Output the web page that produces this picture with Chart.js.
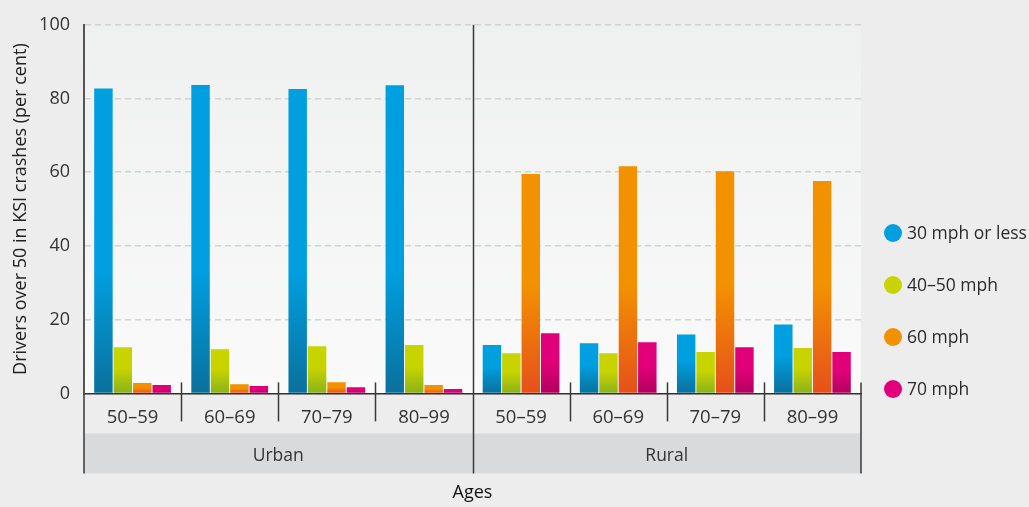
<!DOCTYPE html>
<html>
<head>
<meta charset="utf-8">
<script src="https://cdn.jsdelivr.net/npm/chart.js@4.4.1/dist/chart.umd.min.js"></script>
<style>
    body { margin: 0; background: #ecedec; font-family: 'Open Sans', sans-serif; }
    #wrap { position: relative; width: 1029px; height: 507px; }
    #chart { position: absolute; left: 0; top: 0; }
    #legend { position: absolute; left: 884px; top: 222px; }
    .item { position: relative; height: 52px; font-size: 17.5px; color: #2b2b2b; }
    .dot { position: absolute; left: 0; top: 2px; width: 18px; height: 18px; border-radius: 50%; }
    .lbl { position: absolute; left: 23px; top: -1px; line-height: 22px; white-space: nowrap; }
</style>
</head>
<body>
<div id="wrap">
    <canvas id="chart" width="1029" height="507"></canvas>
    <div id="legend"></div>
</div>
<script>
// Données
const ageGroups = ['50–59', '60–69', '70–79', '80–99', '50–59', '60–69', '70–79', '80–99'];
const areas = ['Urban', 'Rural'];
const speed30 = [82.7, 83.7, 82.6, 83.6, 13.1, 13.6, 16.0, 18.7];
const speed4050 = [12.5, 12.0, 12.8, 13.1, 10.9, 10.9, 11.2, 12.3];
const speed60 = [2.8, 2.5, 3.0, 2.3, 59.5, 61.6, 60.3, 57.6];
const speed70 = [2.3, 2.0, 1.7, 1.2, 16.3, 13.9, 12.5, 11.2];
const seriesNames = ['30 mph or less', '40–50 mph', '60 mph', '70 mph'];
const yMin = 0, yMax = 100, yStep = 20;

const topColors = ['#009fe0', '#c8d400', '#f39200', '#e2007a'];
const bottomColors = ['#0b709c', '#8ab21b', '#e6501c', '#b3005f'];
const FONT = "'Open Sans', sans-serif";

// Dégradé vertical sur le bas de chaque barre
function barGradient(i) {
    return (context) => {
        const chart = context.chart;
        if (!chart.chartArea || !context.parsed) return topColors[i];
        const y = chart.scales.y;
        const top = y.getPixelForValue(context.parsed.y);
        const bottom = y.getPixelForValue(0);
        if (bottom - top < 1) return bottomColors[i];
        const start = Math.max(top, bottom - 110);
        const g = chart.ctx.createLinearGradient(0, top, 0, bottom);
        const s = (start - top) / (bottom - top);
        g.addColorStop(0, topColors[i]);
        g.addColorStop(Math.min(0.6, Math.max(s, 0.45)), topColors[i]);
        g.addColorStop(1, bottomColors[i]);
        return g;
    };
}

// Fond du graphique, bande grise et séparateurs
const decorPlugin = {
    id: 'decor',
    beforeDraw(chart) {
        const { ctx, chartArea } = chart;
        const x2 = chart.scales.x2;
        ctx.save();
        const g = ctx.createLinearGradient(0, chartArea.top, 0, chartArea.bottom);
        g.addColorStop(0, '#eff0f0');
        g.addColorStop(1, '#fafafa');
        ctx.fillStyle = g;
        ctx.fillRect(chartArea.left, chartArea.top, chartArea.right - chartArea.left, chartArea.bottom - chartArea.top);
        ctx.fillStyle = '#d9dadc';
        ctx.fillRect(chartArea.left, x2.top, chartArea.right - chartArea.left, x2.bottom - x2.top);
        ctx.restore();
    },
    afterDraw(chart) {
        const { ctx, chartArea } = chart;
        const x = chart.scales.x;
        const x2 = chart.scales.x2;
        ctx.save();
        ctx.strokeStyle = '#3a3a3a';
        ctx.lineWidth = 1.5;
        for (let i = 0; i < ageGroups.length - 1; i++) {
            const px = Math.round((x.getPixelForValue(i) + x.getPixelForValue(i + 1)) / 2) + 0.5;
            ctx.beginPath();
            if (i === 3) {
                ctx.moveTo(px, chartArea.top);
                ctx.lineTo(px, x2.bottom);
            } else {
                ctx.moveTo(px, chartArea.bottom - 11);
                ctx.lineTo(px, x.bottom - 12);
            }
            ctx.stroke();
        }
        ctx.beginPath();
        ctx.moveTo(chartArea.left, chartArea.bottom);
        ctx.lineTo(chartArea.left, x2.bottom);
        ctx.moveTo(chartArea.right, chartArea.bottom - 11);
        ctx.lineTo(chartArea.right, x2.bottom);
        ctx.stroke();
        ctx.restore();
    }
};

const ctx = document.getElementById('chart').getContext('2d');
const allSeries = [speed30, speed4050, speed60, speed70];

new Chart(ctx, {
    type: 'bar',
    data: {
        labels: ageGroups,
        datasets: allSeries.map((values, i) => ({
            label: seriesNames[i],
            data: values,
            backgroundColor: barGradient(i),
            borderWidth: 0,
            categoryPercentage: 0.8,
            barPercentage: 0.95
        }))
    },
    options: {
        responsive: false,
        devicePixelRatio: 1,
        animation: false,
        layout: { padding: { top: 18, right: 168, left: 0, bottom: 0 } },
        plugins: {
            legend: { display: false },
            tooltip: { enabled: false },
            title: {
                display: true,
                position: 'bottom',
                fullSize: false,
                text: 'Ages',
                color: '#111',
                font: { family: FONT, size: 18, weight: 'normal' },
                padding: { top: 9, bottom: 3 }
            }
        },
        scales: {
            x: {
                position: 'bottom',
                grid: { display: false },
                border: { display: true, color: '#333', width: 1.5 },
                ticks: { color: '#333', font: { family: FONT, size: 18.5 }, padding: 5 },
                afterFit: (scale) => { scale.height = 40; }
            },
            x2: {
                type: 'category',
                labels: areas,
                position: 'bottom',
                grid: { display: false },
                border: { display: false },
                ticks: { color: '#333', font: { family: FONT, size: 17.5 }, padding: 4 },
                afterFit: (scale) => { scale.height = 40; }
            },
            y: {
                min: yMin,
                max: yMax,
                ticks: { stepSize: yStep, color: '#333', font: { family: FONT, size: 18 }, padding: 14 },
                grid: { color: '#d2d2d2', lineWidth: 1.5, drawTicks: false },
                border: { display: true, color: '#555', width: 2, dash: [6, 4] },
                title: {
                    display: true,
                    text: 'Drivers over 50 in KSI crashes (per cent)',
                    color: '#222',
                    font: { family: FONT, size: 18 },
                    padding: { top: 10, bottom: 4 }
                },
                afterFit: (scale) => { scale.width = 84; }
            }
        }
    },
    plugins: [decorPlugin]
});

// Légende HTML
const legendEl = document.getElementById('legend');
seriesNames.forEach((name, i) => {
    const item = document.createElement('div');
    item.className = 'item';
    item.innerHTML = `<span class="dot" style="background:${topColors[i]}"></span><span class="lbl">${name}</span>`;
    legendEl.appendChild(item);
});
</script>
</body>
</html>
